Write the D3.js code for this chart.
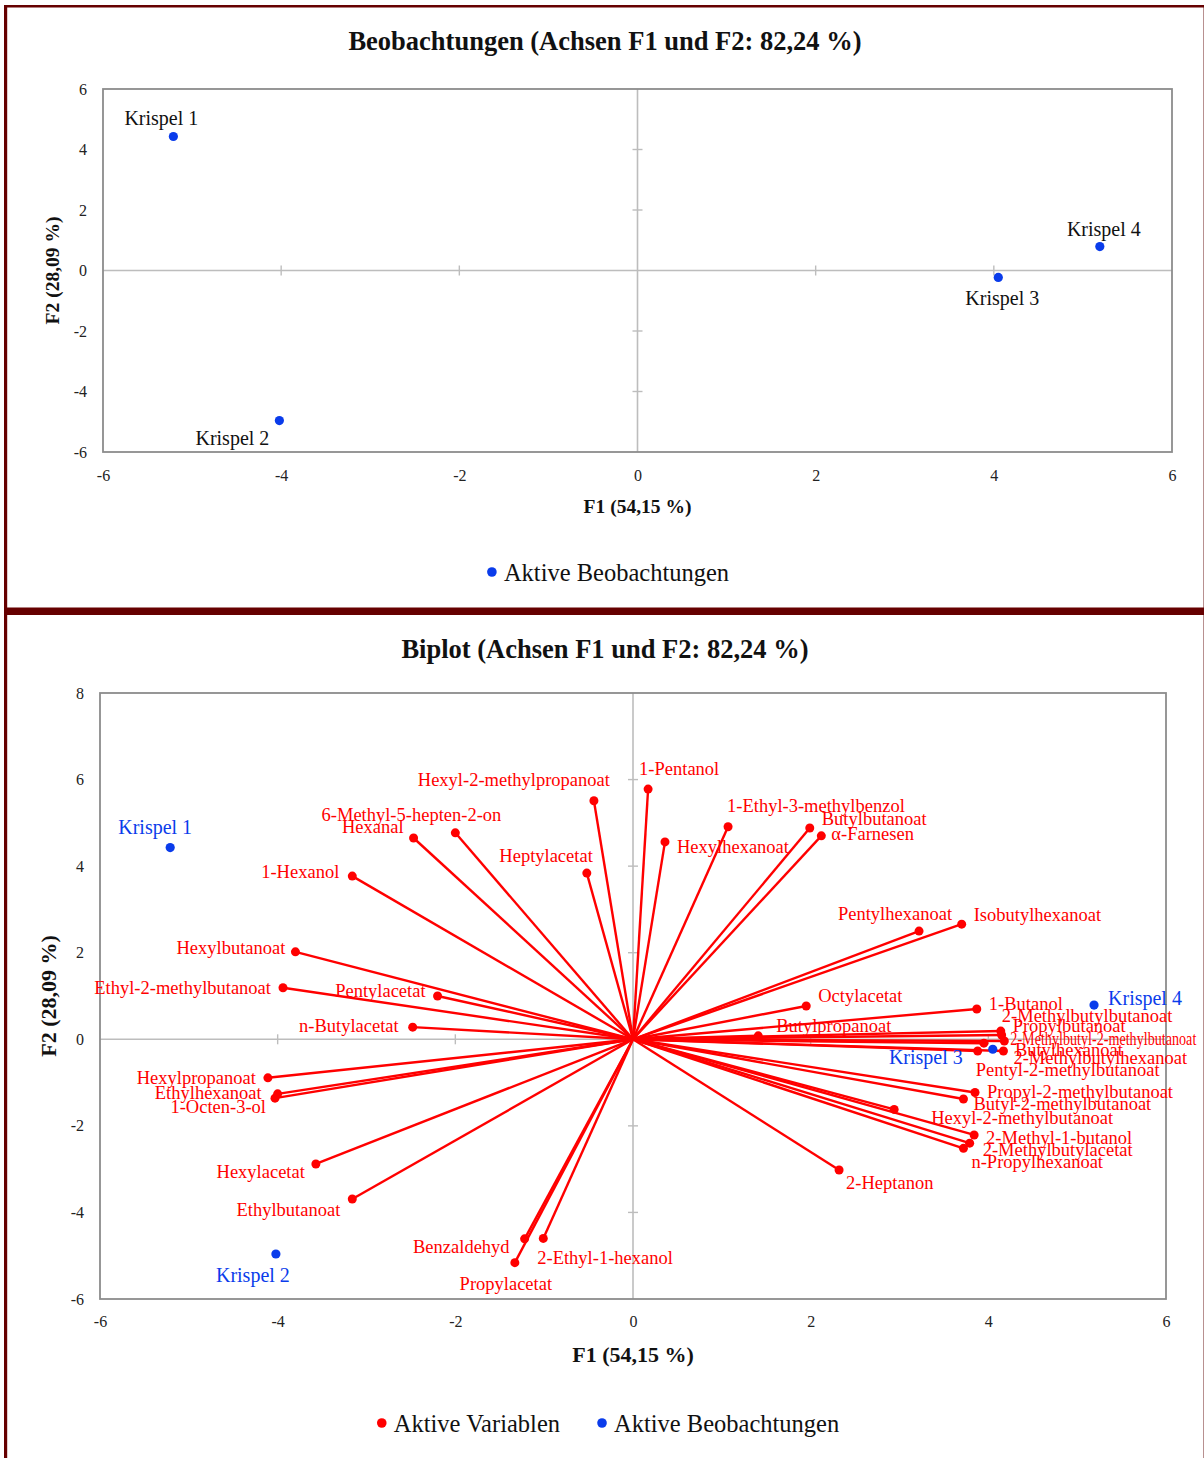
<!DOCTYPE html>
<html>
<head>
<meta charset="utf-8">
<script src="https://cdn.jsdelivr.net/npm/d3@7"></script>
<style>
  html, body { margin: 0; padding: 0; background: #fff; }
  svg { display: block; font-family: "Liberation Serif", "DejaVu Serif", serif; }
</style>
</head>
<body>
<svg id="chart" width="1204" height="1458"></svg>
<script>
// ---- PCA results: observations (F1, F2) ----
const observations = ["Krispel 1", "Krispel 2", "Krispel 3", "Krispel 4"];
const obsF1 = [-5.21, -4.02, 4.05, 5.19];
const obsF2 = [4.43, -4.96, -0.23, 0.79];

// ---- active variables (loadings scaled for the biplot) ----
const variables = [
  "1-Pentanol", "Hexyl-2-methylpropanoat", "6-Methyl-5-hepten-2-on", "Hexanal", "1-Hexanol",
  "Heptylacetat", "Hexylhexanoat", "1-Ethyl-3-methylbenzol", "Butylbutanoat", "α-Farnesen",
  "Pentylhexanoat", "Isobutylhexanoat", "Hexylbutanoat", "Ethyl-2-methylbutanoat", "Pentylacetat",
  "n-Butylacetat", "Octylacetat", "Butylpropanoat", "1-Butanol", "2-Methylbutylbutanoat",
  "Propylbutanoat", "2-Methylbutyl-2-methylbutanoat", "Butylhexanoat", "2-Methylbutylhexanoat", "Pentyl-2-methylbutanoat",
  "Propyl-2-methylbutanoat", "Butyl-2-methylbutanoat", "Hexyl-2-methylbutanoat", "2-Methyl-1-butanol", "2-Methylbutylacetat",
  "n-Propylhexanoat", "2-Heptanon", "Hexylpropanoat", "Ethylhexanoat", "1-Octen-3-ol",
  "Hexylacetat", "Ethylbutanoat", "Benzaldehyd", "Propylacetat", "2-Ethyl-1-hexanol"
];
const varF1 = [
  0.17, -0.44, -2.00, -2.47, -3.16,
  -0.52, 0.36, 1.07, 1.99, 2.12,
  3.22, 3.70, -3.80, -3.94, -2.20,
  -2.48, 1.95, 1.41, 3.87, 4.14,
  4.15, 4.18, 3.95, 4.17, 3.88,
  3.85, 3.72, 2.94, 3.84, 3.79,
  3.72, 2.32, -4.11, -4.00, -4.03,
  -3.57, -3.16, -1.22, -1.33, -1.01
];
const varF2 = [
  5.78, 5.51, 4.77, 4.65, 3.77,
  3.84, 4.56, 4.91, 4.88, 4.70,
  2.50, 2.66, 2.02, 1.19, 1.00,
  0.28, 0.77, 0.08, 0.70, 0.19,
  0.10, -0.04, -0.09, -0.27, -0.27,
  -1.23, -1.38, -1.62, -2.21, -2.40,
  -2.52, -3.02, -0.89, -1.26, -1.36,
  -2.88, -3.69, -4.61, -5.16, -4.60
];

// ---- axis ticks ----
const xTicks = [-6, -4, -2, 0, 2, 4, 6];
const yTicksObs = [-6, -4, -2, 0, 2, 4, 6];
const yTicksBiplot = [-6, -4, -2, 0, 2, 4, 6, 8];

// ---- text ----
const titleObs = "Beobachtungen (Achsen F1 und F2: 82,24 %)";
const titleBiplot = "Biplot (Achsen F1 und F2: 82,24 %)";
const xTitle = "F1 (54,15 %)";
const yTitle = "F2 (28,09 %)";
const legendVar = "Aktive Variablen";
const legendObs = "Aktive Beobachtungen";

// label placement: [text-anchor, dx, dy, optional fitted width]
const varLabelPlacement = {
  "1-Pentanol": ["start", -9, -21],
  "Hexyl-2-methylpropanoat": ["end", 16, -21],
  "6-Methyl-5-hepten-2-on": ["end", 46, -18],
  "Hexanal": ["end", -10, -11],
  "1-Hexanol": ["end", -13, -5],
  "Heptylacetat": ["end", 6, -18],
  "Hexylhexanoat": ["start", 12, 5],
  "1-Ethyl-3-methylbenzol": ["start", -1, -21],
  "Butylbutanoat": ["start", 12, -10],
  "α-Farnesen": ["start", 10, -2],
  "Pentylhexanoat": ["end", 33, -18],
  "Isobutylhexanoat": ["start", 12, -10],
  "Hexylbutanoat": ["end", -10, -4],
  "Ethyl-2-methylbutanoat": ["end", -12, 0],
  "Pentylacetat": ["end", -12, -5],
  "n-Butylacetat": ["end", -14, -2],
  "Octylacetat": ["start", 12, -10],
  "Butylpropanoat": ["start", 18, -10],
  "1-Butanol": ["start", 12, -5],
  "2-Methylbutylbutanoat": ["start", 1, -16],
  "Propylbutanoat": ["start", 11, -9],
  "2-Methylbutyl-2-methylbutanoat": ["start", 6, -2, 186],
  "Butylhexanoat": ["start", 31, 6],
  "2-Methylbutylhexanoat": ["start", 10, 7],
  "Pentyl-2-methylbutanoat": ["start", -2, 19],
  "Propyl-2-methylbutanoat": ["start", 12, -1],
  "Butyl-2-methylbutanoat": ["start", 10, 5],
  "Hexyl-2-methylbutanoat": ["start", 37, 8],
  "2-Methyl-1-butanol": ["start", 12, 3],
  "2-Methylbutylacetat": ["start", 13, 6],
  "n-Propylhexanoat": ["start", 8, 13],
  "2-Heptanon": ["start", 7, 13],
  "Hexylpropanoat": ["end", -12, 0],
  "Ethylhexanoat": ["end", -16, -1],
  "1-Octen-3-ol": ["end", -9, 8],
  "Hexylacetat": ["end", -11, 8],
  "Ethylbutanoat": ["end", -12, 11],
  "Benzaldehyd": ["end", -15, 8],
  "Propylacetat": ["middle", -9, 21],
  "2-Ethyl-1-hexanol": ["start", -6, 19]
};
const obsLabelPlacementTop = [["middle", -12, -18], ["middle", -47, 17], ["middle", 4, 21], ["middle", 4, -18]];
const obsLabelPlacementBiplot = [["middle", -15, -21], ["middle", -23, 21], ["end", -30, 8], ["start", 14, -7]];

const RED = "#ff0000";
const BLUE = "#0a3ceb";
const FRAME = "#8c8c8c";
const ZERO = "#bdbdbd";
const BORDER = "#660000";

const svg = d3.select("#chart");

// panel borders
svg.append("rect").attr("x", 0).attr("y", 0).attr("width", 1204).attr("height", 1458).attr("fill", "#fff");
svg.append("line").attr("x1", 1203.5).attr("x2", 1203.5).attr("y1", 5).attr("y2", 1458)
  .attr("stroke", "#b89090").attr("stroke-width", 1);
svg.append("rect").attr("x", 4).attr("y", 5).attr("width", 1200).attr("height", 2.5).attr("fill", BORDER);
svg.append("rect").attr("x", 4).attr("y", 5).attr("width", 3.2).attr("height", 1453).attr("fill", BORDER);
svg.append("rect").attr("x", 4).attr("y", 607.5).attr("width", 1200).attr("height", 7.5).attr("fill", BORDER);

function drawPanel(cfg) {
  const g = svg.append("g");
  const x = d3.scaleLinear().domain([-6, 6]).range([cfg.left, cfg.right]);
  const y = d3.scaleLinear().domain(cfg.yDomain).range([cfg.bottom, cfg.top]);

  // title
  g.append("text").attr("x", cfg.titleX).attr("y", cfg.titleY).attr("dy", "0.35em")
    .attr("text-anchor", "middle").attr("font-weight", "bold").attr("font-size", 26.5)
    .attr("fill", "#111").text(cfg.title);

  // tick labels via d3 axes (no tick lines, no domain)
  const ax = g.append("g").attr("transform", `translate(0,${cfg.bottom})`)
    .call(d3.axisBottom(x).tickValues(xTicks).tickSize(0).tickPadding(cfg.xPad).tickFormat(d => String(d)));
  const ay = g.append("g").attr("transform", `translate(${cfg.left},0)`)
    .call(d3.axisLeft(y).tickValues(cfg.yTicks).tickSize(0).tickPadding(cfg.yPad).tickFormat(d => String(d)));
  [ax, ay].forEach(a => {
    a.select(".domain").remove();
    a.selectAll("text").attr("font-family", "Liberation Serif").attr("font-size", 16).attr("fill", "#222");
  });

  // zero lines with cross ticks
  g.append("line").attr("x1", x(-6)).attr("x2", x(6)).attr("y1", y(0)).attr("y2", y(0))
    .attr("stroke", ZERO).attr("stroke-width", 1.6);
  g.append("line").attr("x1", x(0)).attr("x2", x(0)).attr("y1", cfg.top).attr("y2", cfg.bottom)
    .attr("stroke", ZERO).attr("stroke-width", 1.6);
  g.selectAll(".xt").data(xTicks.filter(d => d !== 0 && Math.abs(d) < 6)).join("line")
    .attr("x1", d => x(d)).attr("x2", d => x(d)).attr("y1", y(0) - 5).attr("y2", y(0) + 5)
    .attr("stroke", ZERO).attr("stroke-width", 1.4);
  g.selectAll(".yt").data(cfg.yTicks.filter(d => d !== 0 && d > cfg.yDomain[0] && d < cfg.yDomain[1])).join("line")
    .attr("x1", x(0) - 5).attr("x2", x(0) + 5).attr("y1", d => y(d)).attr("y2", d => y(d))
    .attr("stroke", ZERO).attr("stroke-width", 1.4);

  // plot frame
  g.append("rect").attr("x", cfg.left).attr("y", cfg.top)
    .attr("width", cfg.right - cfg.left).attr("height", cfg.bottom - cfg.top)
    .attr("fill", "none").attr("stroke", FRAME).attr("stroke-width", 1.8);

  // axis titles
  g.append("text").attr("x", x(0)).attr("y", cfg.xTitleY).attr("dy", "0.35em")
    .attr("text-anchor", "middle").attr("font-weight", "bold").attr("font-size", cfg.axisTitleSize)
    .attr("fill", "#111").text(xTitle);
  g.append("text").attr("transform", `translate(${cfg.yTitleX},${(cfg.top + cfg.bottom) / 2}) rotate(-90)`)
    .attr("dy", "0.35em").attr("text-anchor", "middle").attr("font-weight", "bold")
    .attr("font-size", cfg.axisTitleSize).attr("fill", "#111").text(yTitle);

  return { g, x, y };
}

// ===== Panel 1: observations =====
const p1 = drawPanel({
  left: 103, right: 1172, top: 89, bottom: 452, yDomain: [-6, 6], yTicks: yTicksObs,
  title: titleObs, titleX: 605, titleY: 41, xPad: 18, yPad: 16,
  xTitleY: 506, yTitleX: 52, axisTitleSize: 19.5
});
const obsIdx = d3.range(observations.length);
p1.g.selectAll(".obs").data(obsIdx).join("circle")
  .attr("cx", i => p1.x(obsF1[i])).attr("cy", i => p1.y(obsF2[i])).attr("r", 4.6).attr("fill", BLUE);
p1.g.selectAll(".obsLbl").data(obsIdx).join("text")
  .attr("x", i => p1.x(obsF1[i]) + obsLabelPlacementTop[i][1])
  .attr("y", i => p1.y(obsF2[i]) + obsLabelPlacementTop[i][2])
  .attr("dy", "0.35em").attr("text-anchor", i => obsLabelPlacementTop[i][0])
  .attr("font-size", 20).attr("fill", "#111").text(i => observations[i]);

// legend helper: items centred on cx
function legend(items, cx, cy) {
  const lg = svg.append("g");
  let cursor = 0;
  const parts = [];
  items.forEach((it, k) => {
    const dot = lg.append("circle").attr("r", 4.8).attr("cy", cy).attr("fill", it.color);
    const t = lg.append("text").attr("y", cy).attr("dy", "0.35em").attr("font-size", 24.5)
      .attr("fill", "#111").text(it.label);
    const w = t.node().getComputedTextLength();
    parts.push({ dot, t, start: cursor, w });
    cursor += 5 + 12 + w + (k < items.length - 1 ? 37 : 0);
  });
  const x0 = cx - cursor / 2;
  parts.forEach(p => {
    p.dot.attr("cx", x0 + p.start);
    p.t.attr("x", x0 + p.start + 12);
  });
}
legend([{ color: BLUE, label: legendObs }], 613, 572);

// ===== Panel 2: biplot =====
const p2 = drawPanel({
  left: 100, right: 1166, top: 693, bottom: 1299, yDomain: [-6, 8], yTicks: yTicksBiplot,
  title: titleBiplot, titleX: 605, titleY: 649, xPad: 17, yPad: 16,
  xTitleY: 1354, yTitleX: 48, axisTitleSize: 22
});
const varIdx = d3.range(variables.length);
p2.g.selectAll(".vline").data(varIdx).join("line")
  .attr("x1", p2.x(0)).attr("y1", p2.y(0))
  .attr("x2", i => p2.x(varF1[i])).attr("y2", i => p2.y(varF2[i]))
  .attr("stroke", RED).attr("stroke-width", 2.4);
p2.g.selectAll(".vdot").data(varIdx).join("circle")
  .attr("cx", i => p2.x(varF1[i])).attr("cy", i => p2.y(varF2[i])).attr("r", 4.5).attr("fill", RED);
p2.g.selectAll(".odot").data(obsIdx).join("circle")
  .attr("cx", i => p2.x(obsF1[i])).attr("cy", i => p2.y(obsF2[i])).attr("r", 4.6).attr("fill", BLUE);
p2.g.selectAll(".vlbl").data(varIdx).join("text")
  .each(function (i) {
    const pl = varLabelPlacement[variables[i]];
    const t = d3.select(this)
      .attr("x", p2.x(varF1[i]) + pl[1]).attr("y", p2.y(varF2[i]) + pl[2])
      .attr("dy", "0.35em").attr("text-anchor", pl[0])
      .attr("font-size", 18.5).attr("fill", RED).text(variables[i]);
    if (pl[3]) t.attr("textLength", pl[3]).attr("lengthAdjust", "spacingAndGlyphs");
  });
p2.g.selectAll(".olbl").data(obsIdx).join("text")
  .attr("x", i => p2.x(obsF1[i]) + obsLabelPlacementBiplot[i][1])
  .attr("y", i => p2.y(obsF2[i]) + obsLabelPlacementBiplot[i][2])
  .attr("dy", "0.35em").attr("text-anchor", i => obsLabelPlacementBiplot[i][0])
  .attr("font-size", 20).attr("fill", BLUE).text(i => observations[i]);

legend([{ color: RED, label: legendVar }, { color: BLUE, label: legendObs }], 613, 1423);
</script>
</body>
</html>
